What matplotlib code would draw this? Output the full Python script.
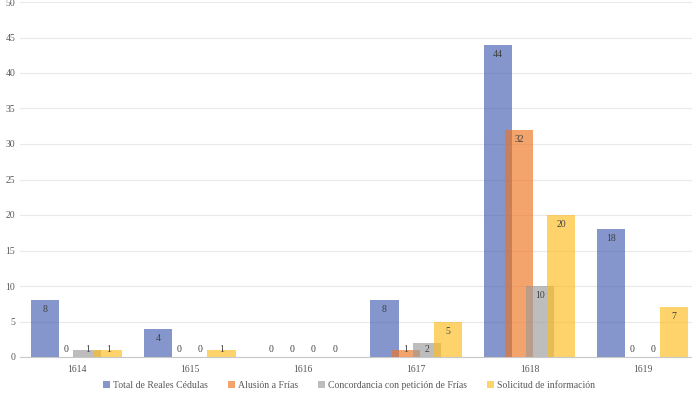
import matplotlib.pyplot as plt
import numpy as np

years = ['1614', '1615', '1616', '1617', '1618', '1619']
series_names = ['Total de Reales Cédulas', 'Alusión a Frías',
                'Concordancia con petición de Frías', 'Solicitud de información']
total = [8, 4, 0, 8, 44, 18]
alusion = [0, 0, 0, 1, 32, 0]
concordancia = [1, 0, 0, 2, 10, 0]
solicitud = [1, 1, 0, 5, 20, 7]

colors = ['#425EB1', '#EE731D', '#9A9A9A', '#FFBC1C']


def plot_graph():
    plt.rcParams['font.family'] = ['Liberation Serif', 'DejaVu Serif']
    fig = plt.figure(figsize=(6.92, 3.99), dpi=100)
    ax = fig.add_axes([20 / 692, 42 / 399, 672 / 692, 355 / 399])

    x = np.arange(len(years))
    offsets = [-0.28, -0.093, 0.093, 0.28]
    width = 0.25
    px_per_unit = 355 / 50

    for vals, name, col, off in zip([total, alusion, concordancia, solicitud],
                                    series_names, colors, offsets):
        ax.bar(x + off, vals, width, color=col, alpha=0.65, label=name, zorder=2)
        for xi, v in zip(x, vals):
            yl = max(v - 9.5 / px_per_unit, 8 / px_per_unit)
            ax.text(xi + off, yl, str(v), ha='center', va='center',
                    fontsize=7, color='#404040', zorder=3)

    ax.set_xlim(-0.5, -0.5 + 672 / 113.2)
    ax.set_ylim(0, 50)
    ax.set_yticks(range(0, 51, 5))
    ax.set_xticks(x)
    ax.set_xticklabels(years)
    ax.tick_params(axis='both', length=0, labelsize=7, colors='#595959')
    ax.tick_params(axis='x', pad=6)
    ax.grid(axis='y', color='#e9e9e9', linewidth=0.8, zorder=0)
    for s in ['top', 'right', 'left']:
        ax.spines[s].set_visible(False)
    ax.spines['bottom'].set_color('#c8c8c8')

    leg = fig.legend(loc='center', bbox_to_anchor=(349 / 692, 14 / 399), ncol=4,
                     frameon=False, fontsize=7, handlelength=0.7, handleheight=0.7,
                     columnspacing=2.1, handletextpad=0.3)
    for t in leg.get_texts():
        t.set_color('#595959')

    plt.savefig('out.png', dpi=100)
    plt.close()


if __name__ == '__main__':
    plot_graph()
